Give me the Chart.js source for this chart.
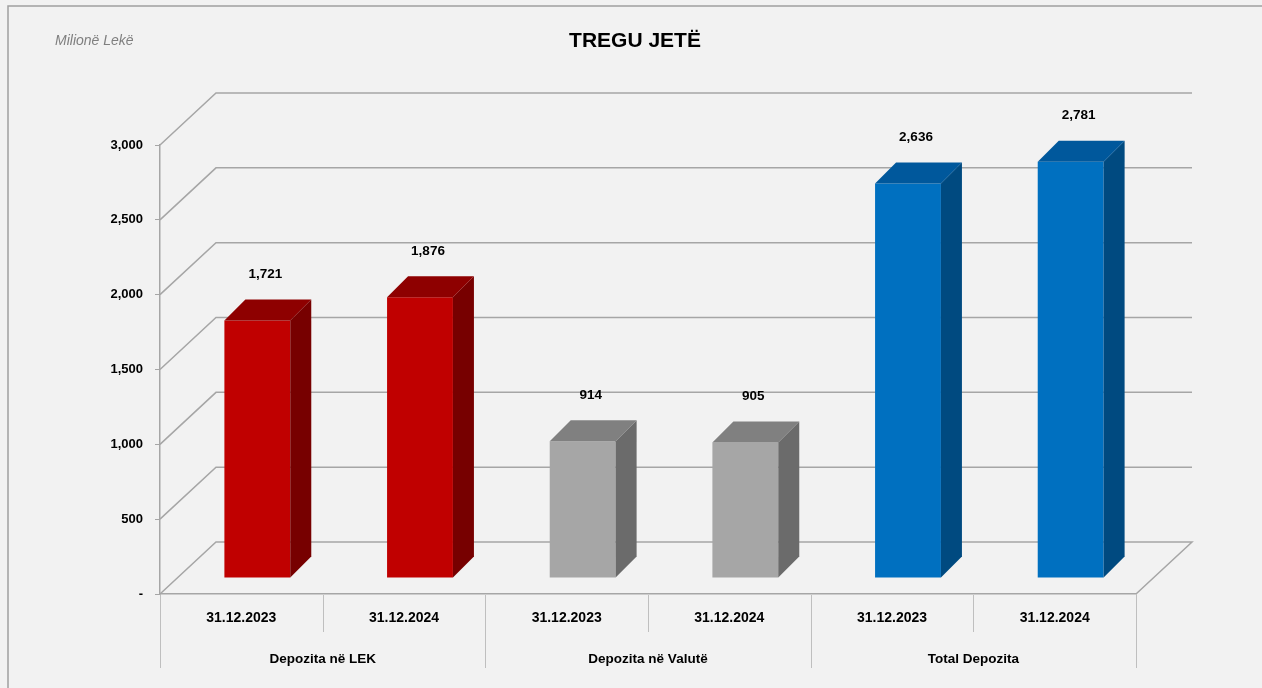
<!DOCTYPE html>
<html>
<head>
<meta charset="utf-8">
<script src="https://cdn.jsdelivr.net/npm/chart.js@4/dist/chart.umd.min.js"></script>
<style>
html,body{margin:0;padding:0;background:#f2f2f2;}
canvas{display:block;}
</style>
</head>
<body>
<canvas id="c" width="1262" height="688"></canvas>
<script>
const categories = ['31.12.2023','31.12.2024','31.12.2023','31.12.2024','31.12.2023','31.12.2024'];
const groups = ['Depozita në LEK','Depozita në Valutë','Total Depozita'];
const values = [1721, 1876, 914, 905, 2636, 2781];
const yTicks = [0, 500, 1000, 1500, 2000, 2500, 3000];
const frontColors = ['#c00000','#c00000','#a6a6a6','#a6a6a6','#0070c0','#0070c0'];
const topColors   = ['#8e0000','#8e0000','#808080','#808080','#00589c','#00589c'];
const sideColors  = ['#770000','#770000','#6b6b6b','#6b6b6b','#004a80','#004a80'];

const FONT = '"Liberation Sans",Arial,sans-serif';
const WALL_DX = 56, WALL_DY = -52;   // back wall offset
const FRONT_DX = 16, FRONT_DY = -16; // bar front plane offset
const DEPTH = 21;                    // bar depth
const GRID = '#a6a6a6';

const threeD = {
  id: 'threeD',
  beforeDraw(chart) {
    const ctx = chart.ctx;
    ctx.save();
    ctx.fillStyle = '#f2f2f2';
    ctx.fillRect(0, 0, chart.width, chart.height);
    ctx.strokeStyle = '#a0a0a0';
    ctx.lineWidth = 1.5;
    ctx.beginPath();
    ctx.moveTo(8, chart.height); ctx.lineTo(8, 6); ctx.lineTo(chart.width, 6);
    ctx.stroke();
    ctx.fillStyle = '#000';
    ctx.font = 'bold 21px ' + FONT;
    ctx.textAlign = 'center';
    ctx.textBaseline = 'middle';
    ctx.fillText('TREGU JETË', 635, 41);
    ctx.fillStyle = '#7f7f7f';
    ctx.font = 'italic 14px ' + FONT;
    ctx.textAlign = 'left';
    ctx.fillText('Milionë Lekë', 55, 41);
    ctx.restore();
  },
  beforeDatasetsDraw(chart) {
    const ctx = chart.ctx, y = chart.scales.y, a = chart.chartArea;
    ctx.save();
    ctx.strokeStyle = GRID;
    ctx.lineWidth = 1.5;
    yTicks.forEach(v => {
      const py = y.getPixelForValue(v);
      ctx.beginPath();
      ctx.moveTo(a.left, py);
      ctx.lineTo(a.left + WALL_DX, py + WALL_DY);
      ctx.lineTo(a.right + WALL_DX, py + WALL_DY);
      if (v === 0) ctx.lineTo(a.right, py);
      ctx.stroke();
    });
    ctx.restore();
    ctx.save();
    ctx.translate(FRONT_DX, FRONT_DY);
  },
  afterDatasetsDraw(chart) {
    const ctx = chart.ctx;
    ctx.restore();
    const meta = chart.getDatasetMeta(0);
    ctx.save();
    meta.data.forEach((bar, i) => {
      const p = bar.getProps(['x','y','base','width'], true);
      const l = p.x - p.width / 2 + FRONT_DX, r = p.x + p.width / 2 + FRONT_DX;
      const t = p.y + FRONT_DY, b = p.base + FRONT_DY;
      ctx.fillStyle = sideColors[i];
      ctx.beginPath();
      ctx.moveTo(r, t); ctx.lineTo(r + DEPTH, t - DEPTH); ctx.lineTo(r + DEPTH, b - DEPTH); ctx.lineTo(r, b);
      ctx.closePath(); ctx.fill();
      ctx.fillStyle = topColors[i];
      ctx.beginPath();
      ctx.moveTo(l, t); ctx.lineTo(l + DEPTH, t - DEPTH); ctx.lineTo(r + DEPTH, t - DEPTH); ctx.lineTo(r, t);
      ctx.closePath(); ctx.fill();
      ctx.fillStyle = '#000';
      ctx.font = 'bold 13.5px ' + FONT;
      ctx.textAlign = 'center';
      ctx.textBaseline = 'middle';
      ctx.fillText(values[i].toLocaleString('en-US'), p.x + FRONT_DX + 8, t - 46);
    });
    ctx.restore();
  },
  afterDraw(chart) {
    const ctx = chart.ctx, x = chart.scales.x, a = chart.chartArea;
    ctx.save();
    ctx.strokeStyle = '#bfbfbf';
    ctx.lineWidth = 1;
    const n = categories.length;
    const bounds = [];
    for (let i = 0; i <= n; i++) {
      let bx;
      if (i === 0) bx = a.left; else if (i === n) bx = a.right;
      else bx = (x.getPixelForTick(i - 1) + x.getPixelForTick(i)) / 2;
      bounds.push(bx);
      ctx.beginPath();
      ctx.moveTo(Math.round(bx) + 0.5, a.bottom + 1);
      ctx.lineTo(Math.round(bx) + 0.5, a.bottom + (i % 2 === 0 ? 74 : 38));
      ctx.stroke();
    }
    ctx.fillStyle = '#000';
    ctx.font = 'bold 13.5px ' + FONT;
    ctx.textAlign = 'center';
    ctx.textBaseline = 'middle';
    groups.forEach((g, k) => {
      ctx.fillText(g, (bounds[2 * k] + bounds[2 * k + 2]) / 2, a.bottom + 65);
    });
    ctx.restore();
  }
};

new Chart(document.getElementById('c'), {
  type: 'bar',
  data: {
    labels: categories,
    datasets: [{
      data: values,
      backgroundColor: frontColors,
      borderWidth: 0,
      categoryPercentage: 1,
      barPercentage: 0.405,
      clip: false
    }]
  },
  options: {
    responsive: false,
    animation: false,
    devicePixelRatio: 1,
    layout: { padding: { left: 0, top: 145, right: 126, bottom: 0 } },
    plugins: { legend: { display: false }, tooltip: { enabled: false }, title: { display: false } },
    scales: {
      x: {
        offset: true,
        grid: { display: false },
        border: { display: true, color: GRID, width: 1.5 },
        ticks: { color: '#000', font: { family: FONT, weight: 'bold', size: 14 }, padding: 8, maxRotation: 0, autoSkip: false },
        afterFit(s) { s.height = 94; }
      },
      y: {
        min: 0, max: 3000,
        afterBuildTicks(s) { s.ticks = yTicks.map(v => ({ value: v })); },
        grid: { display: true, drawOnChartArea: false, drawTicks: true, tickLength: 5, color: GRID, lineWidth: 1 },
        border: { display: true, color: GRID, width: 1.5 },
        ticks: {
          color: '#000', padding: 12,
          font: { family: FONT, weight: 'bold', size: 13 },
          callback: v => v === 0 ? '-' : Number(v).toLocaleString('en-US')
        },
        afterFit(s) { s.width = 160; }
      }
    }
  },
  plugins: [threeD]
});
</script>
</body>
</html>
